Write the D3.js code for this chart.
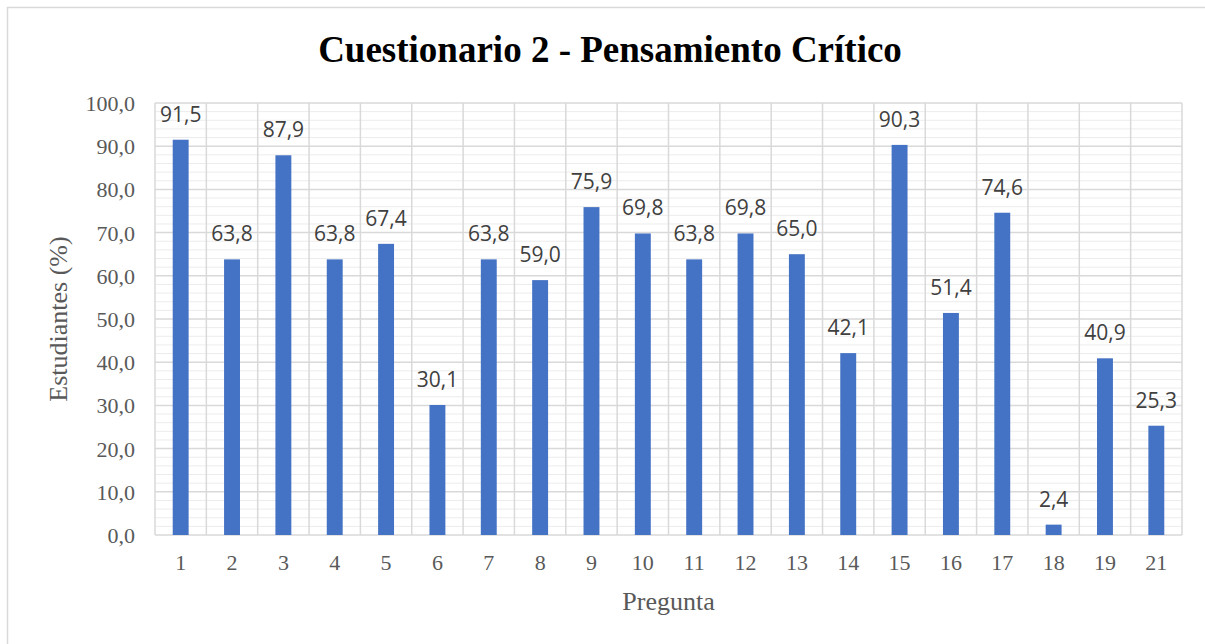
<!DOCTYPE html>
<html>
<head>
<meta charset="utf-8">
<script src="https://cdn.jsdelivr.net/npm/d3@7"></script>
<style>
  body { margin: 0; background: #fff; }
  svg { display: block; }
</style>
</head>
<body>
<script>
// chart data
var preguntas = ["1","2","3","4","5","6","7","8","9","10","11","12","13","14","15","16","17","18","19","21"];
var porcentajes = [91.5, 63.8, 87.9, 63.8, 67.4, 30.1, 63.8, 59.0, 75.9, 69.8, 63.8, 69.8, 65.0, 42.1, 90.3, 51.4, 74.6, 2.4, 40.9, 25.3];
var yTicks = [0, 10, 20, 30, 40, 50, 60, 70, 80, 90, 100];

var W = 1205, H = 644;
var margin = {left: 155, right: W - 1182, top: 103, bottom: H - 535};

var svg = d3.select("body").append("svg")
    .attr("width", W)
    .attr("height", H);

// chart border (cut off on the right / bottom like the picture)
svg.append("rect")
    .attr("x", 7.5).attr("y", 7.5)
    .attr("width", W + 10).attr("height", H + 10)
    .attr("fill", "#fff")
    .attr("stroke", "#d9d9d9")
    .attr("stroke-width", 1.5);

var xScale = d3.scaleBand().domain(preguntas)
    .range([margin.left, W - margin.right])
    .padding(0);

var yScale = d3.scaleLinear().domain([0, 100])
    .range([H - margin.bottom, margin.top]);

var fmt = function(v){ return d3.format(".1f")(v).replace(".", ","); };

// minor gridlines every 2
var minor = d3.range(2, 100, 2).filter(function(v){ return v % 10 !== 0; });
svg.append("g").selectAll("line")
    .data(minor)
    .enter().append("line")
    .attr("x1", margin.left).attr("x2", W - margin.right)
    .attr("y1", function(d){ return yScale(d); })
    .attr("y2", function(d){ return yScale(d); })
    .attr("stroke", "#ececec")
    .attr("stroke-width", 1);

// major gridlines
svg.append("g").selectAll("line")
    .data(yTicks)
    .enter().append("line")
    .attr("x1", margin.left).attr("x2", W - margin.right)
    .attr("y1", function(d){ return yScale(d); })
    .attr("y2", function(d){ return yScale(d); })
    .attr("stroke", "#d9d9d9")
    .attr("stroke-width", 1.5);

// vertical lines between categories
var bounds = preguntas.map(function(p){ return xScale(p); }).concat([W - margin.right]);
svg.append("g").selectAll("line")
    .data(bounds)
    .enter().append("line")
    .attr("x1", function(d){ return d; }).attr("x2", function(d){ return d; })
    .attr("y1", yScale(100)).attr("y2", yScale(0))
    .attr("stroke", "#d9d9d9")
    .attr("stroke-width", 1.5);

// bars
var barW = xScale.bandwidth() * 0.31;
svg.append("g").selectAll("rect")
    .data(porcentajes)
    .enter().append("rect")
    .attr("x", function(d, i){ return xScale(preguntas[i]) + xScale.bandwidth()/2 - barW/2; })
    .attr("y", function(d){ return yScale(d); })
    .attr("width", barW)
    .attr("height", function(d){ return yScale(0) - yScale(d); })
    .attr("fill", "#4472c4");

// data labels
svg.append("g").selectAll("text")
    .data(porcentajes)
    .enter().append("text")
    .attr("x", function(d, i){ return xScale(preguntas[i]) + xScale.bandwidth()/2; })
    .attr("y", function(d){ return yScale(d) - 18; })
    .attr("text-anchor", "middle")
    .attr("font-family", "'Open Sans', sans-serif")
    .attr("font-size", "21px")
    .attr("fill", "#404040")
    .text(function(d){ return fmt(d); });

// y axis labels
var yAxis = d3.axisLeft(yScale).tickValues(yTicks).tickFormat(fmt).tickSize(0).tickPadding(20);
var gy = svg.append("g")
    .attr("transform", "translate(" + margin.left + ",0)")
    .call(yAxis);
gy.select(".domain").remove();
gy.selectAll("text")
    .attr("font-family", "'Liberation Serif', 'Times New Roman', serif")
    .attr("font-size", "22px")
    .attr("fill", "#595959")
    .attr("dy", "0.34em");

// x axis labels
var xAxis = d3.axisBottom(xScale).tickSize(0).tickPadding(20);
var gx = svg.append("g")
    .attr("transform", "translate(0," + yScale(0) + ")")
    .call(xAxis);
gx.select(".domain").remove();
gx.selectAll("text")
    .attr("font-family", "'Liberation Serif', 'Times New Roman', serif")
    .attr("font-size", "22px")
    .attr("fill", "#595959")
    .attr("dy", "0.7em");

// title
svg.append("text")
    .attr("x", 610).attr("y", 62)
    .attr("text-anchor", "middle")
    .attr("font-family", "'Liberation Serif', 'Times New Roman', serif")
    .attr("font-weight", "bold")
    .attr("font-size", "37px")
    .attr("fill", "#000")
    .text("Cuestionario 2 - Pensamiento Crítico");

// axis titles
svg.append("text")
    .attr("x", (margin.left + W - margin.right) / 2).attr("y", 610)
    .attr("text-anchor", "middle")
    .attr("font-family", "'Liberation Serif', 'Times New Roman', serif")
    .attr("font-size", "26px")
    .attr("fill", "#595959")
    .text("Pregunta");

svg.append("text")
    .attr("transform", "translate(67," + (margin.top + yScale(0)) / 2 + ") rotate(-90)")
    .attr("text-anchor", "middle")
    .attr("font-family", "'Liberation Serif', 'Times New Roman', serif")
    .attr("font-size", "26px")
    .attr("fill", "#595959")
    .text("Estudiantes (%)");
</script>
</body>
</html>
